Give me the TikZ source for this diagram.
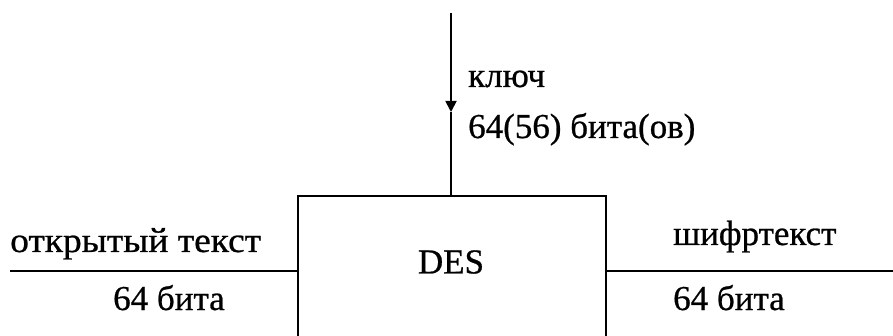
\documentclass[tikz,border=0pt]{standalone}
\usepackage{fontspec}
\setmainfont{Liberation Serif}[FakeBold=0.7]
\usetikzlibrary{arrows.meta}
\begin{document}
\begin{tikzpicture}[x=1pt,y=-1pt,
  lbl/.style={inner sep=0pt,font=\fontsize{35}{40}\selectfont},
  ln/.style={line width=1.8pt}]
\useasboundingbox (0,0) rectangle (893,336);
\node[draw,line width=1.8pt,minimum width=308pt,minimum height=170pt,anchor=north west,inner sep=0pt] (des) at (297,195) {};
\node[lbl] (dest) at (451,262) {DES};
\coordinate (ktop) at (451,13);
\coordinate (kmid) at (451,112);
\coordinate (lin) at (10,271);
\coordinate (rout) at (893,271);
\draw[ln,-{Triangle[length=11pt,width=11pt]}] (ktop) -- (kmid);
\draw[ln] (kmid) -- (des.north -| kmid);
\draw[ln] (lin) -- (lin -| des.west);
\draw[ln] (rout -| des.east) -- (rout);
\node[lbl,anchor=base west] (kl) at (468,87) {ключ};
\node[lbl,anchor=base west] (kb) at (468,138) {64(56) бита(ов)};
\node[lbl,anchor=base west,xscale=1.07] (ot) at (10,252) {открытый текст};
\node[lbl,anchor=base west] (ob) at (113,310) {64 бита};
\node[lbl,anchor=base west] (st) at (673,245) {шифртекст};
\node[lbl,anchor=base west] (sb) at (673,310) {64 бита};
\end{tikzpicture}
\end{document}
